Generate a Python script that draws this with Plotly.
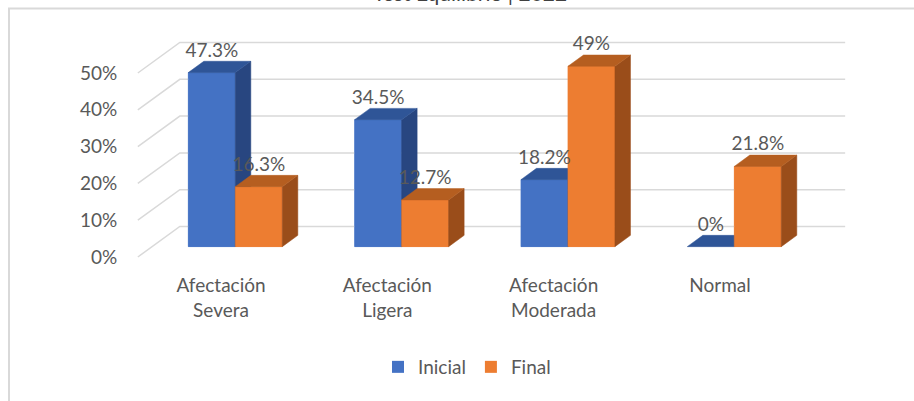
import plotly.graph_objects as go

# ---------------- data ----------------
categories = ["Afectación<br>Severa", "Afectación<br>Ligera", "Afectación<br>Moderada", "Normal"]
series_names = ["Inicial", "Final"]
inicial = [47.3, 34.5, 18.2, 0]
final = [16.3, 12.7, 49, 21.8]
inicial_labels = ["47.3%", "34.5%", "18.2%", "0%"]
final_labels = ["16.3%", "12.7%", "49%", "21.8%"]
y_ticks = [0, 10, 20, 30, 40, 50]
y_tick_labels = ["0%", "10%", "20%", "30%", "40%", "50%"]
title_text = "Test Equilibrio | 2022"

# ---------------- styles / geometry ----------------
W, H = 914, 401
M_L, M_R, M_T, M_B = 125, 54, 20, 141
PX_CAT = 166.33      # pixels per category
CAT0_PX = 221        # front-plane pixel x of first category
PX_PCT = 3.68        # pixels per percent
ZERO_PX = 257        # front-plane pixel y of 0%

x_min = (M_L - CAT0_PX) / PX_CAT
x_max = (W - M_R - CAT0_PX) / PX_CAT
y_max = (ZERO_PX - M_T) / PX_PCT
y_min = (ZERO_PX - (H - M_B)) / PX_PCT

WALL_DX = 42 / PX_CAT
WALL_DY = 30.5 / PX_PCT
BAR_D0, BAR_D1 = 0.34, 0.71
BAR_W = 47 / PX_CAT
WALL_X0, WALL_X1 = -0.5, 3.5

FONT = "Lato, Carlito, Calibri, 'Open Sans', sans-serif"
TXT = "#595959"
GRID = "#D9D9D9"
colors = {
    "front": ["#4472C4", "#ED7D31"],
    "top": ["#2F5597", "#B55E20"],
    "side": ["#284680", "#9A4D1A"],
}


def proj(x, y, d):
    return x + d * WALL_DX, y + d * WALL_DY


fig = go.Figure()

# legend / base bars (front faces)
values = [inicial, final]
for s, name in enumerate(series_names):
    xs = [i + (s - 0.5) * BAR_W + BAR_D0 * WALL_DX for i in range(len(categories))]
    fig.add_trace(go.Bar(
        x=xs, y=values[s], base=BAR_D0 * WALL_DY, width=BAR_W,
        marker=dict(color=colors["front"][s], line=dict(width=0)),
        name=name, hoverinfo="skip",
    ))

# gridlines: back wall + left wall diagonals
gx, gy = [], []
for v in y_ticks:
    a = proj(WALL_X0, v, 0)
    b = proj(WALL_X0, v, 1)
    c = proj(WALL_X1, v, 1)
    gx += [a[0], b[0], c[0], None]
    gy += [a[1], b[1], c[1], None]
fig.add_trace(go.Scatter(x=gx, y=gy, mode="lines", line=dict(color=GRID, width=1.5),
                         showlegend=False, hoverinfo="skip"))


def poly_trace(pts_list, color):
    xs, ys = [], []
    for pts in pts_list:
        for p in pts:
            xs.append(p[0]); ys.append(p[1])
        xs.append(pts[0][0]); ys.append(pts[0][1])
        xs.append(None); ys.append(None)
    return go.Scatter(x=xs, y=ys, mode="lines", fill="toself", fillcolor=color,
                      line=dict(width=0.5, color=color), showlegend=False, hoverinfo="skip")


# faces per category, drawn blue then orange
for i in range(len(categories)):
    for s in range(2):
        v = values[s][i]
        x0 = i + (s - 1) * BAR_W
        x1 = x0 + BAR_W
        front = [proj(x0, 0, BAR_D0), proj(x1, 0, BAR_D0), proj(x1, v, BAR_D0), proj(x0, v, BAR_D0)]
        top = [proj(x0, v, BAR_D0), proj(x1, v, BAR_D0), proj(x1, v, BAR_D1), proj(x0, v, BAR_D1)]
        side = [proj(x1, 0, BAR_D0), proj(x1, v, BAR_D0), proj(x1, v, BAR_D1), proj(x1, 0, BAR_D1)]
        if v > 0:
            fig.add_trace(poly_trace([front], colors["front"][s]))
            fig.add_trace(poly_trace([side], colors["side"][s]))
        fig.add_trace(poly_trace([top], colors["top"][s]))

# data labels
labels = [inicial_labels, final_labels]
for s in range(2):
    xs = [i + (s - 0.5) * BAR_W + BAR_D0 * WALL_DX for i in range(len(categories))]
    ys = [v + BAR_D1 * WALL_DY for v in values[s]]
    fig.add_trace(go.Scatter(
        x=xs, y=ys, mode="text", text=labels[s], textposition="top center",
        textfont=dict(family=FONT, size=19, color=TXT), showlegend=False, hoverinfo="skip",
        cliponaxis=False,
    ))

pw = W - M_L - M_R
ph = H - M_T - M_B


def px_to_paper_x(px):
    return (px - M_L) / pw


def px_to_paper_y(py):
    return (H - M_B - py) / ph


fig.update_layout(
    width=W, height=H,
    margin=dict(l=M_L, r=M_R, t=M_T, b=M_B, autoexpand=False),
    paper_bgcolor="white", plot_bgcolor="white",
    font=dict(family=FONT, size=19, color=TXT),
    barmode="overlay",
    showlegend=True,
    legend=dict(orientation="h", x=px_to_paper_x(467), xanchor="center",
                y=px_to_paper_y(367), yanchor="middle",
                font=dict(family=FONT, size=19, color=TXT), itemwidth=30),
    xaxis=dict(range=[x_min, x_max], tickvals=list(range(len(categories))), ticktext=categories,
               showgrid=False, zeroline=False, showline=False, ticks="outside", ticklen=8,
               tickcolor="rgba(0,0,0,0)", fixedrange=True),
    yaxis=dict(range=[y_min, y_max], tickvals=y_ticks, ticktext=y_tick_labels,
               showgrid=False, zeroline=False, showline=False, ticks="outside", ticklen=3,
               tickcolor="rgba(0,0,0,0)", fixedrange=True),
    shapes=[
        dict(type="line", xref="paper", yref="paper", x0=px_to_paper_x(8), x1=px_to_paper_x(W + 5),
             y0=px_to_paper_y(8.5), y1=px_to_paper_y(8.5), line=dict(color=GRID, width=2)),
        dict(type="line", xref="paper", yref="paper", x0=px_to_paper_x(9), x1=px_to_paper_x(9),
             y0=px_to_paper_y(8), y1=px_to_paper_y(H + 5), line=dict(color=GRID, width=2)),
    ],
    annotations=[
        dict(text=title_text, xref="paper", yref="paper", x=px_to_paper_x(470), xanchor="center",
             y=px_to_paper_y(7), yanchor="bottom", showarrow=False,
             font=dict(family=FONT, size=21, color="#404040")),
    ],
)

fig.write_html("out.html", config={"displayModeBar": False},
               post_script="document.body.style.margin='0';")
